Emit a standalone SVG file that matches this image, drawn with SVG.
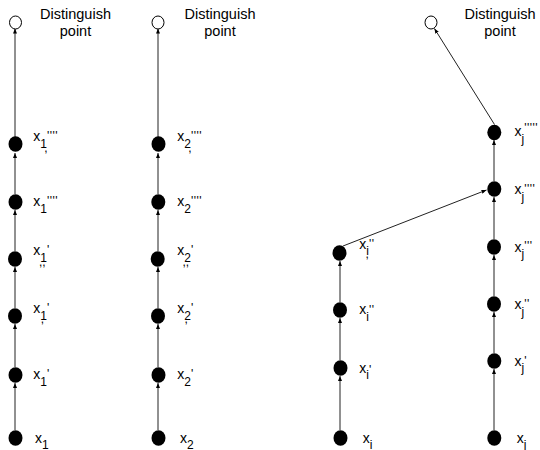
<svg xmlns="http://www.w3.org/2000/svg" width="540" height="450" viewBox="0 0 540 450">
<style>
.dot{fill:#000}
.open{fill:#fff;stroke:#000;stroke-width:1}
.edge{stroke:#222;stroke-width:1;fill:none;marker-end:url(#ah)}
text{font-family:"Liberation Sans",Arial,sans-serif;fill:#000}
.t{font-size:14.5px;text-anchor:middle}
.x{font-size:14px}
.s{font-size:12px}
.p{font-size:12px;letter-spacing:0.5px}
</style>
<defs>
<marker id="ah" markerUnits="userSpaceOnUse" viewBox="0 0 5 4" refX="5" refY="2" markerWidth="5" markerHeight="4" orient="auto">
<path d="M0,0 L5,2 L0,4 z" fill="#000"/>
</marker>
</defs>
<g id="connectors">
<line class="edge" x1="15" y1="430" x2="15" y2="383"/>
<line class="edge" x1="15" y1="367" x2="15" y2="324"/>
<line class="edge" x1="15" y1="308" x2="15" y2="267"/>
<line class="edge" x1="15" y1="251" x2="15" y2="210"/>
<line class="edge" x1="15" y1="194" x2="15" y2="153"/>
<line class="edge" x1="15" y1="137" x2="15" y2="28.5"/>
<line class="edge" x1="158" y1="430" x2="158" y2="383"/>
<line class="edge" x1="158" y1="367" x2="158" y2="324"/>
<line class="edge" x1="158" y1="308" x2="158" y2="267"/>
<line class="edge" x1="158" y1="251" x2="158" y2="210"/>
<line class="edge" x1="158" y1="194" x2="158" y2="153"/>
<line class="edge" x1="158" y1="137" x2="158" y2="28.5"/>
<line class="edge" x1="340" y1="430" x2="340" y2="376"/>
<line class="edge" x1="340" y1="360" x2="340" y2="318"/>
<line class="edge" x1="340" y1="302" x2="340" y2="261"/>
<line class="edge" x1="343" y1="246" x2="486.5" y2="190"/>
<line class="edge" x1="494" y1="430" x2="494" y2="369"/>
<line class="edge" x1="494" y1="353" x2="494" y2="312"/>
<line class="edge" x1="494" y1="296" x2="494" y2="255"/>
<line class="edge" x1="494" y1="239" x2="494" y2="197"/>
<line class="edge" x1="494" y1="181" x2="494" y2="140"/>
<line class="edge" x1="494.5" y1="124.5" x2="434.4" y2="28.5"/>
</g>
<g id="d1"><ellipse class="open" cx="15.5" cy="22.5" rx="6" ry="6.5"/><text class="t" x="75.5" y="19">Distinguish</text><text class="t" x="75.5" y="35.7">point</text></g>
<g id="d2"><ellipse class="open" cx="158" cy="22.5" rx="6" ry="6.5"/><text class="t" x="220" y="19">Distinguish</text><text class="t" x="220" y="35.7">point</text></g>
<g id="d4"><ellipse class="open" cx="431" cy="22.5" rx="6" ry="6.5"/><text class="t" x="500" y="19">Distinguish</text><text class="t" x="500" y="35.7">point</text></g>

<g id="n1a"><ellipse class="dot" cx="15.5" cy="144" rx="7" ry="7.7"/><text class="x" x="33.3" y="141">x<tspan class="s" y="148">1</tspan><tspan class="p" y="139.6">''''</tspan></text><text class="s" x="44.3" y="152">,</text></g>
<g id="n1b"><ellipse class="dot" cx="15.5" cy="202" rx="7" ry="7.7"/><text class="x" x="33.3" y="206">x<tspan class="s" y="212.5">1</tspan><tspan class="p" y="204.6">''''</tspan></text></g>
<g id="n1c"><ellipse class="dot" cx="15" cy="259" rx="7" ry="7.7"/><text class="x" x="33.3" y="255">x<tspan class="s" y="261.5">1</tspan><tspan class="p" y="253.6">'</tspan></text><text class="s" x="39" y="265.5">,,</text></g>
<g id="n1d"><ellipse class="dot" cx="15" cy="316" rx="7" ry="7.7"/><text class="x" x="33.3" y="313">x<tspan class="s" y="320">1</tspan><tspan class="p" y="311.6">'</tspan></text><text class="s" x="40.7" y="323">,</text></g>
<g id="n1e"><ellipse class="dot" cx="15.5" cy="375" rx="7" ry="7.7"/><text class="x" x="33.3" y="379">x<tspan class="s" y="385.7">1</tspan><tspan class="p" y="377.6">'</tspan></text></g>
<g id="n1f"><ellipse class="dot" cx="15.5" cy="438" rx="7" ry="7.7"/><text class="x" x="35" y="443">x<tspan class="s" y="448.5">1</tspan></text></g>

<g id="n2a"><ellipse class="dot" cx="158.5" cy="144" rx="7" ry="7.7"/><text class="x" x="177.3" y="141">x<tspan class="s" y="148">2</tspan><tspan class="p" y="139.6">''''</tspan></text><text class="s" x="188.3" y="152">,</text></g>
<g id="n2b"><ellipse class="dot" cx="158.3" cy="202" rx="7" ry="7.7"/><text class="x" x="177.3" y="206">x<tspan class="s" y="212.5">2</tspan><tspan class="p" y="204.6">''''</tspan></text></g>
<g id="n2c"><ellipse class="dot" cx="157.7" cy="259" rx="7" ry="7.7"/><text class="x" x="177.3" y="255">x<tspan class="s" y="261.5">2</tspan><tspan class="p" y="253.6">'</tspan></text><text class="s" x="182.5" y="265.5">,,</text></g>
<g id="n2d"><ellipse class="dot" cx="158" cy="316" rx="7" ry="7.7"/><text class="x" x="177.3" y="313">x<tspan class="s" y="320">2</tspan><tspan class="p" y="311.6">'</tspan></text><text class="s" x="184.5" y="323">,</text></g>
<g id="n2e"><ellipse class="dot" cx="158.5" cy="375" rx="7" ry="7.7"/><text class="x" x="177.3" y="379">x<tspan class="s" y="385.7">2</tspan><tspan class="p" y="377.6">'</tspan></text></g>
<g id="n2f"><ellipse class="dot" cx="158.5" cy="438" rx="7" ry="7.7"/><text class="x" x="180" y="443">x<tspan class="s" y="448.5">2</tspan></text></g>

<g id="n3a"><ellipse class="dot" cx="339.5" cy="253" rx="7" ry="7.7"/><text class="x" x="359.3" y="249">x<tspan class="s" y="255">i</tspan><tspan class="p" y="248">''</tspan></text><text class="s" x="365.5" y="258">,</text></g>
<g id="n3b"><ellipse class="dot" cx="340" cy="310" rx="7" ry="7.7"/><text class="x" x="359.3" y="314">x<tspan class="s" y="320.5">i</tspan><tspan class="p" y="313.6">''</tspan></text></g>
<g id="n3c"><ellipse class="dot" cx="340.5" cy="368" rx="7" ry="7.7"/><text class="x" x="359.3" y="373">x<tspan class="s" y="379">i</tspan><tspan class="p" y="373.6">'</tspan></text></g>
<g id="n3d"><ellipse class="dot" cx="340.5" cy="438" rx="7" ry="7.7"/><text class="x" x="362.7" y="443">x<tspan class="s" y="448.5">i</tspan></text></g>

<g id="n4a"><ellipse class="dot" cx="494.3" cy="132.5" rx="7" ry="7.7"/><text class="x" x="514.5" y="136">x<tspan class="s" y="143">j</tspan><tspan class="p" y="131.6">'''''</tspan></text></g>
<g id="n4b"><ellipse class="dot" cx="494.3" cy="189" rx="7" ry="7.7"/><text class="x" x="514.5" y="194">x<tspan class="s" y="201">j</tspan><tspan class="p" y="192.6">''''</tspan></text></g>
<g id="n4c"><ellipse class="dot" cx="494" cy="247" rx="7" ry="7.7"/><text class="x" x="514.5" y="251.7">x<tspan class="s" y="258">j</tspan><tspan class="p" y="250.3">'''</tspan></text></g>
<g id="n4d"><ellipse class="dot" cx="494" cy="304" rx="7" ry="7.7"/><text class="x" x="514.5" y="309">x<tspan class="s" y="316">j</tspan><tspan class="p" y="308">''</tspan></text></g>
<g id="n4e"><ellipse class="dot" cx="494.3" cy="361" rx="7" ry="7.7"/><text class="x" x="514.5" y="366">x<tspan class="s" y="372">j</tspan><tspan class="p" y="365.3">'</tspan></text></g>
<g id="n4f"><ellipse class="dot" cx="494.3" cy="438" rx="7" ry="7.7"/><text class="x" x="516.7" y="443">x<tspan class="s" y="448.5">j</tspan></text></g>
</svg>
